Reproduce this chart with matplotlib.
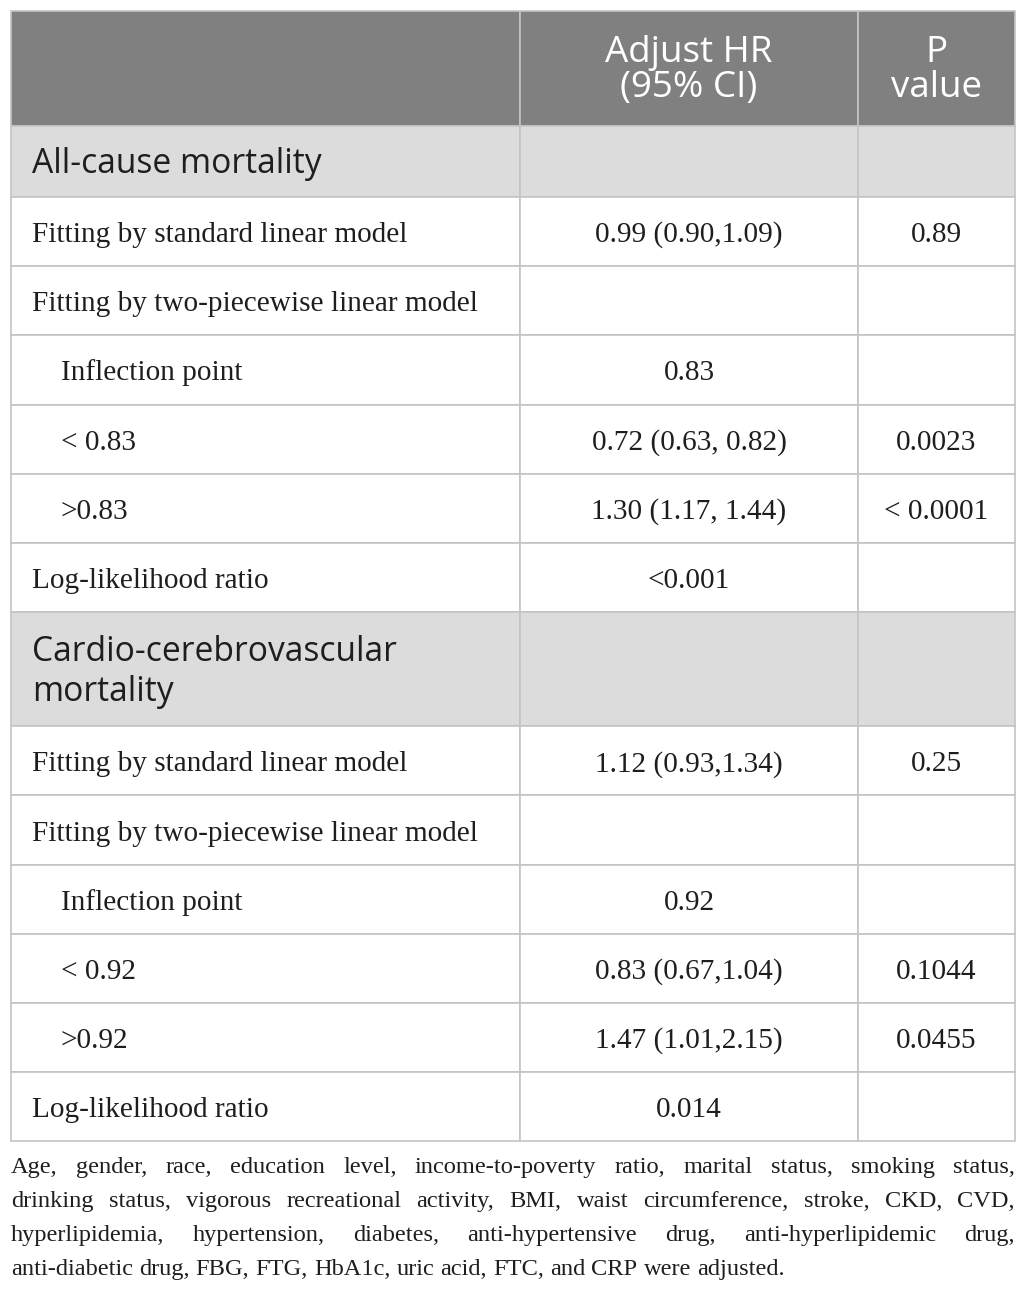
import matplotlib.pyplot as plt
from matplotlib.patches import Rectangle

# table content
col_headers = [["Adjust HR", "(95% CI)"], ["P", "value"]]
sections = [["All-cause mortality"], ["Cardio-cerebrovascular", "mortality"]]
row_labels = ["Fitting by standard linear model",
              "Fitting by two-piecewise linear model",
              "Inflection point", "< {}", ">{}",
              "Log-likelihood ratio"]
row_level = [0, 0, 1, 1, 1, 0]
inflection = ["0.83", "0.92"]
hr_all = ["0.99 (0.90,1.09)", "", "0.83", "0.72 (0.63, 0.82)",
          "1.30 (1.17, 1.44)", "<0.001"]
p_all = ["0.89", "", "", "0.0023", "< 0.0001", ""]
hr_cvd = ["1.12 (0.93,1.34)", "", "0.92", "0.83 (0.67,1.04)",
          "1.47 (1.01,2.15)", "0.014"]
p_cvd = ["0.25", "", "", "0.1044", "0.0455", ""]
footnote = ("Age, gender, race, education level, income-to-poverty ratio, marital status, smoking status,|"
            "drinking status, vigorous recreational activity, BMI, waist circumference, stroke, CKD, CVD,|"
            "hyperlipidemia, hypertension, diabetes, anti-hypertensive drug, anti-hyperlipidemic drug,|"
            "anti-diabetic drug, FBG, FTG, HbA1c, uric acid, FTC, and CRP were adjusted.")

W, H = 1026, 1300
fig = plt.figure(figsize=(W / 100, H / 100), dpi=100)
ax = fig.add_axes([0, 0, 1, 1])
ax.set_xlim(0, W)
ax.set_ylim(H, 0)
ax.axis("off")

x0, x1, x2, x3 = 11, 520, 858, 1015
head_bg = "#808080"
sec_bg = "#dcdcdc"
grid = "#c4c4c4"
ink = "#1e1e1e"
sans = "Open Sans"
serif = "Liberation Serif"
body_fs = 21.1
sec_fs = 24.2
head_fs = 26.5
foot_fs = 17.6

def cell_row(y, h, color):
    for a, b in [(x0, x1), (x1, x2), (x2, x3)]:
        ax.add_patch(Rectangle((a, y), b - a, h, facecolor=color,
                               edgecolor=grid, linewidth=1.2))

# header
y = 11
cell_row(y, 115, head_bg)
for cx, lines in zip([(x1 + x2) / 2, (x2 + x3) / 2], col_headers):
    for j, s in enumerate(lines):
        ax.text(cx, y + 51 + 35 * j, s, color="white", fontsize=head_fs,
                family=sans, ha="center", va="baseline")
y += 115

row_h = 69.2
for k, (sec, hrs, ps) in enumerate(zip(sections, [hr_all, hr_cvd], [p_all, p_cvd])):
    sec_h = 71 if len(sec) == 1 else 114
    cell_row(y, sec_h, sec_bg)
    base = y + sec_h / 2 + 11.5 - 20 * (len(sec) - 1)
    for j, s in enumerate(sec):
        ax.text(32, base + 40 * j, s, fontsize=sec_fs, family=sans,
                color=ink, ha="left", va="baseline")
    y += sec_h
    for lab, lev, hr, p in zip(row_labels, row_level, hrs, ps):
        cell_row(y, row_h, "white")
        by = y + row_h / 2 + 10.5
        ax.text(32 + 29 * lev, by, lab.format(inflection[k]), fontsize=body_fs,
                family=serif, color=ink, ha="left", va="baseline")
        ax.text((x1 + x2) / 2, by, hr, fontsize=body_fs, family=serif,
                color=ink, ha="center", va="baseline")
        ax.text((x2 + x3) / 2, by, p, fontsize=body_fs, family=serif,
                color=ink, ha="center", va="baseline")
        y += row_h

# justified footnote
renderer = fig.canvas.get_renderer()

def text_w(s):
    t = ax.text(0, 0, s, fontsize=foot_fs, family=serif)
    wd = t.get_window_extent(renderer).width
    t.remove()
    return wd

space = text_w("a a") - text_w("aa")
lines = footnote.split("|")
fy = y + 32
for i, line in enumerate(lines):
    words = line.split(" ")
    widths = [text_w(w) for w in words]
    gap = space
    if i < len(lines) - 1:
        gap = max((x3 - x0 - sum(widths)) / (len(words) - 1), space * 0.5)
    x = x0
    for w, wd in zip(words, widths):
        ax.text(x, fy, w, fontsize=foot_fs, family=serif, color=ink,
                ha="left", va="baseline")
        x += wd + gap
    fy += 34

fig.savefig("out.png", dpi=100)
